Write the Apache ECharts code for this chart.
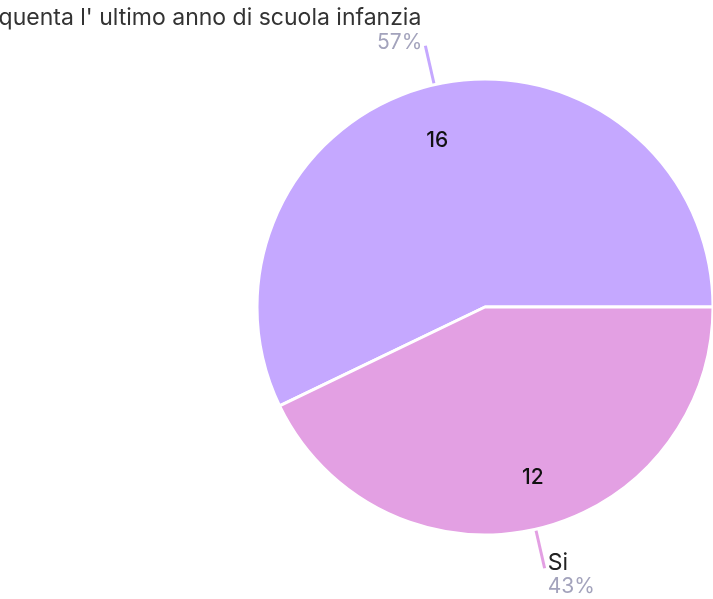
<!DOCTYPE html>
<html>
<head>
<meta charset="utf-8">
<script src="https://cdn.jsdelivr.net/npm/echarts@6/dist/echarts.min.js"></script>
<style>
html,body{margin:0;padding:0;background:#fff;}
#chart{width:713px;height:599px;}
</style>
</head>
<body>
<div id="chart"></div>
<script>
const titleText = "Frequenta l' ultimo anno di scuola infanzia";
const categories = ["", "Si"];
const values = [16, 12];
const colors = ["#C5A8FF", "#E3A0E3"];

const chart = echarts.init(document.getElementById('chart'), null, {renderer: 'canvas'});
const labelPad = [[0, 0, 6, 0], [12, 0, 0, 0]];
const data = categories.map((c, i) => ({
  name: c, value: values[i],
  itemStyle: {color: colors[i]},
  label: {padding: labelPad[i]}
}));
const font = 'Inter, "Noto Sans", sans-serif';

chart.setOption({
  animation: false,
  backgroundColor: '#fff',
  title: {
    text: titleText,
    left: -41,
    top: 2,
    textStyle: {fontFamily: font, fontSize: 23, fontWeight: 'normal', color: '#333'}
  },
  series: [
    {
      type: 'pie',
      center: [485, 307],
      radius: [0, 228],
      startAngle: 0,
      clockwise: false,
      percentPrecision: 0,
      silent: true,
      itemStyle: {borderColor: '#fff', borderWidth: 3},
      label: {
        show: true,
        position: 'outside',
        distanceToLabelLine: 3,
        fontFamily: font,
        formatter: p => (p.name ? '{n|' + p.name + '}\n' : '') + '{p|' + p.percent + '%}',
        rich: {
          n: {fontFamily: font, fontSize: 23, color: '#222', lineHeight: 24},
          p: {fontFamily: font, fontSize: 21, color: '#A3A3BC', lineHeight: 22}
        }
      },
      labelLine: {show: true, length: 40, length2: 0, lineStyle: {width: 3}},
      data: data
    },
    {
      type: 'pie',
      center: [485, 309],
      radius: [135, 209],
      startAngle: 3,
      clockwise: false,
      silent: true,
      z: 3,
      itemStyle: {color: 'transparent', borderWidth: 0},
      label: {show: true, position: 'inside', formatter: '{c}', fontFamily: font, fontSize: 21, fontWeight: 500, color: '#111'},
      labelLine: {show: false},
      data: values.map((v, i) => ({name: categories[i], value: v}))
    }
  ]
});
</script>
</body>
</html>
